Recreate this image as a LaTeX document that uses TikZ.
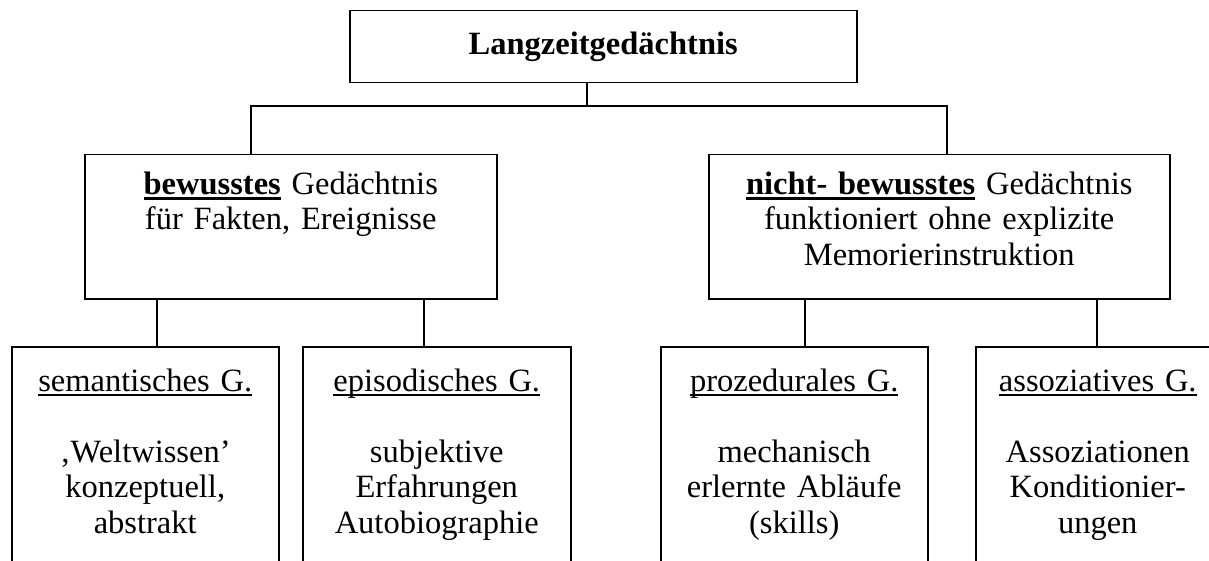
\documentclass[tikz,border=0pt]{standalone}
\usepackage{fontspec}
\setmainfont{Liberation Serif}
\usetikzlibrary{positioning}

% underline with a rule of given thickness
\newcommand{\ulined}[2][1.6pt]{\leavevmode
  \setbox0\hbox{#2}%
  \rlap{\rule[\dimexpr-3pt-#1\relax]{\wd0}{#1}}\box0\relax}

\begin{document}
\begin{tikzpicture}[x=1pt,y=-1pt,
    every node/.style={font=\fontsize{32.5}{35.5}\selectfont},
    box/.style={draw, line width=1.5pt, inner sep=0pt, anchor=north west},
    txt/.style={inner sep=0pt, align=center},
    conn/.style={line width=1.5pt}
  ]
  \path[use as bounding box, clip] (0,0) rectangle (1209,561);

  % top level
  \node[box, minimum width=507pt, minimum height=72pt] (lzg) at (349,10)
    {\textbf{Langzeitgedächtnis}};

  % second level
  \node[box, minimum width=412pt, minimum height=144pt] (bew) at (84,154) {};
  \node[txt, text width=400pt, below=15pt of bew.north] (bewtxt)
    {\strut\ulined[3pt]{\textbf{bewusstes}} Gedächtnis\\
     für Fakten, Ereignisse};

  \node[box, minimum width=461pt, minimum height=144pt] (nbw) at (708,154) {};
  \node[txt, text width=450pt, below=15pt of nbw.north] (nbwtxt)
    {\strut\ulined[3pt]{\textbf{nicht- bewusstes}} Gedächtnis\\
     funktioniert ohne explizite\\
     Memorierinstruktion};

  % third level
  \node[box, minimum width=267pt, minimum height=240pt] (sem) at (11,346) {};
  \node[txt, text width=257pt, below=20pt of sem.north] (semtxt)
    {\strut\ulined{semantisches G.}\\[35.5pt]
     ‚Weltwissen’\\ konzeptuell,\\ abstrakt};

  \node[box, minimum width=268pt, minimum height=240pt] (epi) at (302,346) {};
  \node[txt, text width=258pt, below=20pt of epi.north] (epitxt)
    {\strut\ulined{episodisches G.}\\[35.5pt]
     subjektive\\ Erfahrungen\\ Autobiographie};

  \node[box, minimum width=267pt, minimum height=240pt] (pro) at (660,346) {};
  \node[txt, text width=257pt, below=20pt of pro.north] (protxt)
    {\strut\ulined{prozedurales G.}\\[35.5pt]
     mechanisch\\ erlernte Abläufe\\ (skills)};

  \node[box, minimum width=244pt, minimum height=240pt] (ass) at (975,346) {};
  \node[txt, text width=234pt, below=20pt of ass.north] (asstxt)
    {\strut\ulined{assoziatives G.}\\[35.5pt]
     Assoziationen\\ Konditionier-\\ ungen};

  % connectors
  \coordinate (j0) at (587,106);
  \coordinate (jl) at (251,106);
  \coordinate (jr) at (947,106);
  \draw[conn] (lzg.south -| j0) -- (j0);
  \draw[conn] (jl |- bew.north) -- (jl) -- (jr) -- (jr |- nbw.north);

  \coordinate (d1) at (157,0);
  \coordinate (d2) at (424,0);
  \coordinate (d3) at (805,0);
  \coordinate (d4) at (1097,0);
  \draw[conn] (d1 |- bew.south) -- (d1 |- sem.north);
  \draw[conn] (d2 |- bew.south) -- (d2 |- epi.north);
  \draw[conn] (d3 |- nbw.south) -- (d3 |- pro.north);
  \draw[conn] (d4 |- nbw.south) -- (d4 |- ass.north);

\end{tikzpicture}
\end{document}
